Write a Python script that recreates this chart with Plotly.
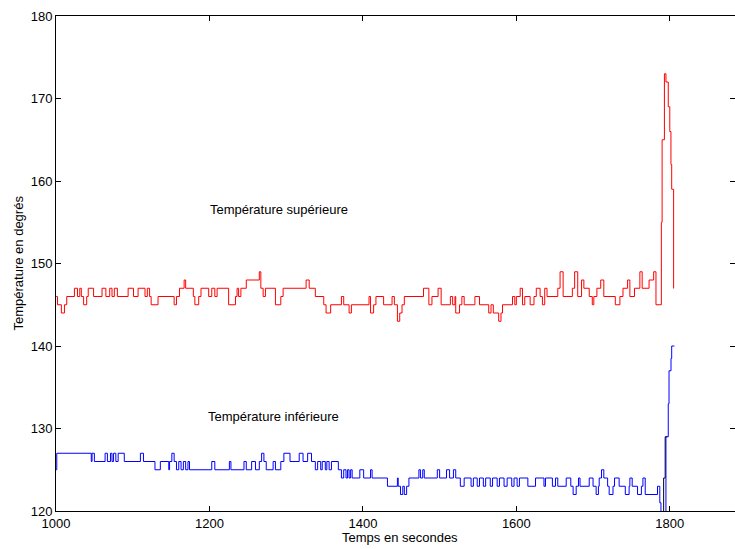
import plotly.graph_objects as go

# Upper temperature (red) - change times (s) and values (deg)
red_t = [1000, 1001, 1002, 1007, 1011, 1014, 1024, 1028, 1031, 1033, 1036, 1040, 1042, 1049,
         1060, 1065, 1070, 1073, 1076, 1080, 1094, 1101, 1107, 1116, 1119, 1122, 1124, 1133,
         1154, 1157, 1161, 1167, 1169, 1179, 1181, 1186, 1189, 1199, 1203, 1207, 1210, 1225,
         1234, 1236, 1238, 1241, 1248, 1265, 1267, 1270, 1273, 1286, 1293, 1296,
         1326, 1330, 1338, 1349, 1352, 1358, 1372, 1375, 1382, 1385, 1408, 1410, 1414, 1417,
         1427, 1438, 1441, 1445, 1448, 1451, 1454, 1479, 1486, 1490, 1498, 1502, 1514, 1517,
         1520, 1521, 1526, 1529, 1532, 1546, 1552, 1564, 1567, 1570, 1577, 1580, 1582, 1595,
         1598, 1600, 1605, 1608, 1611, 1618, 1623, 1626, 1631, 1634, 1637, 1640, 1654, 1657,
         1661, 1673, 1676, 1680, 1685, 1688, 1695, 1699, 1701, 1705, 1710, 1714, 1729, 1735,
         1739, 1745, 1748, 1754, 1761, 1764, 1773, 1779, 1782, 1789, 1790, 1793, 1795, 1798,
         1800, 1801.5, 1802.5, 1805, 1805.5]
red_v = [146, 146, 145, 144, 145, 146, 147, 146, 147, 146, 145, 146, 147, 146,
         147, 146, 147, 146, 147, 146, 147, 146, 147, 146, 147, 146, 145, 146,
         145, 146, 147, 148, 147, 146, 145, 146, 147, 146, 147, 146, 147, 145,
         146, 147, 146, 147, 148, 149, 147, 146, 147, 145, 146, 147,
         148, 147, 146, 145, 144, 145, 146, 145, 144, 145, 146, 144, 145, 146,
         145, 146, 145, 143, 144, 145, 146, 147, 145, 146, 147, 145, 146, 145,
         146, 144, 145, 146, 145, 146, 145, 144, 145, 144, 143, 144, 145, 146,
         145, 146, 147, 145, 146, 145, 146, 147, 146, 145, 147, 146, 147, 149,
         146, 147, 149, 146, 148, 147, 146, 145, 146, 147, 148, 146, 145, 146,
         147, 148, 146, 147, 149, 147, 148, 149, 145, 155, 165, 173, 172, 169,
         166, 162, 159, 147, 147]

# Lower temperature (blue)
blue_t = [1000, 1001, 1046, 1047, 1050, 1064, 1067, 1071, 1073, 1075, 1078, 1081, 1089, 1110,
          1114, 1129, 1136, 1147, 1148, 1151, 1154, 1157, 1160, 1163, 1166, 1169, 1172, 1174,
          1203, 1207, 1226, 1228, 1245, 1248, 1255, 1260, 1265, 1268, 1271, 1274, 1283, 1286,
          1293, 1297, 1305, 1317, 1322, 1328, 1333, 1338, 1341, 1345, 1347, 1351, 1353, 1356,
          1359, 1368, 1372, 1375, 1378, 1380, 1382, 1384, 1386, 1396, 1401, 1410, 1412, 1432,
          1445, 1446, 1449, 1452, 1454, 1457, 1460, 1473, 1475, 1478, 1480, 1497, 1500, 1509,
          1513, 1518, 1521, 1527, 1532, 1541, 1544, 1549, 1552, 1557, 1560, 1566, 1569, 1575,
          1578, 1584, 1588, 1594, 1597, 1601, 1604, 1615, 1625, 1636, 1638, 1647, 1651, 1654,
          1665, 1671, 1674, 1678, 1681, 1683, 1695, 1700, 1704, 1707, 1708, 1711, 1714, 1719,
          1721, 1726, 1728, 1734, 1742, 1747, 1748, 1751, 1758, 1763, 1765, 1768, 1784, 1787,
          1788.5, 1795, 1798, 1799, 1801.6, 1802.5, 1806]
blue_v = [125, 127, 126, 127, 126, 127, 126, 127, 126, 127, 126, 127, 126, 127,
          126, 125, 126, 125, 126, 127, 126, 125, 126, 125, 126, 125, 126, 125,
          126, 125, 126, 125, 126, 125, 126, 125, 126, 127, 126, 125, 126, 125,
          126, 127, 126, 127, 126, 127, 126, 125, 126, 125, 126, 125, 126, 125,
          126, 125, 124, 125, 124, 125, 124, 125, 124, 125, 124, 125, 124, 123,
          124, 123, 122, 123, 122, 123, 124, 125, 124, 125, 124, 125, 124, 125,
          124, 125, 124, 123, 124, 123, 124, 123, 124, 123, 124, 123, 124, 123,
          124, 123, 124, 123, 124, 123, 124, 123, 124, 123, 124, 123, 124, 123,
          124, 123, 122, 123, 124, 123, 124, 123, 122, 123, 124, 125, 124, 123,
          122, 123, 124, 123, 122, 123, 124, 123, 122, 123, 124, 122, 123, 121,
          119, 129, 133, 137, 138.5, 140, 140]

# Third (black) trace, visible only near the end
black_t = [1789, 1792, 1794, 1797]
black_v = [119, 124, 129, 129]

x_ticks = [1000, 1200, 1400, 1600, 1800]
y_ticks = [120, 130, 140, 150, 160, 170, 180]

font_family = "Liberation Sans, Arial, Helvetica, sans-serif"

fig = go.Figure()
fig.add_trace(go.Scatter(x=black_t, y=black_v, mode="lines", line=dict(color="#000000", width=1, shape="hv"),
                         showlegend=False))
fig.add_trace(go.Scatter(x=red_t, y=red_v, mode="lines", line=dict(color="#ff0000", width=1, shape="hv"),
                         showlegend=False))
fig.add_trace(go.Scatter(x=blue_t, y=blue_v, mode="lines", line=dict(color="#0000ff", width=1, shape="hv"),
                         showlegend=False))

fig.add_annotation(x=1198, y=156.5, text="Température supérieure", showarrow=False,
                   xanchor="left", yanchor="middle", font=dict(size=13, color="black", family=font_family))
fig.add_annotation(x=1196, y=131.4, text="Température inférieure", showarrow=False,
                   xanchor="left", yanchor="middle", font=dict(size=13, color="black", family=font_family))

# Axis titles placed as annotations for precise positioning
fig.add_annotation(x=1449, xref="x", y=0, yref="paper", yshift=-26, text="Temps en secondes",
                   showarrow=False, xanchor="center", yanchor="middle",
                   font=dict(size=13, color="black", family=font_family))
fig.add_annotation(x=0, xref="paper", xshift=-38, y=0.5, yref="paper", text="Température en degrés",
                   showarrow=False, textangle=-90, xanchor="center", yanchor="middle",
                   font=dict(size=13, color="black", family=font_family))

axis_common = dict(showgrid=False, zeroline=False, showline=True, linecolor="black", linewidth=1,
                   mirror="ticks", ticks="inside", ticklen=5, tickcolor="black",
                   tickfont=dict(size=13, color="black", family=font_family))

fig.update_layout(
    width=735, height=549,
    margin=dict(l=56, r=0, t=16, b=38),
    paper_bgcolor="white", plot_bgcolor="white",
    font=dict(family=font_family, color="black", size=13),
    xaxis=dict(range=[1000, 1885], tickvals=x_ticks, ticktext=[str(v) for v in x_ticks],
               automargin=False, **axis_common),
    yaxis=dict(range=[120, 180], tickvals=y_ticks, ticktext=[str(v) for v in y_ticks],
               automargin=False, **axis_common),
)

fig.write_html("out.html", config={"displayModeBar": False},
               post_script="document.body.style.margin='0';document.body.style.overflow='hidden';")
